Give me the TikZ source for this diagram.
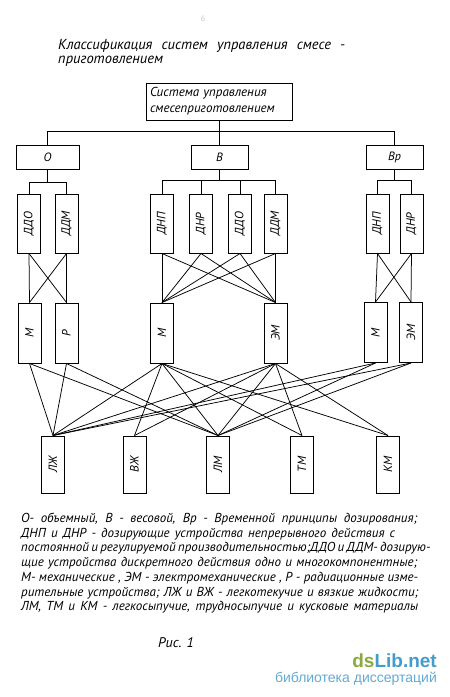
\documentclass[tikz,border=0pt]{standalone}
\usepackage{fontspec}
\usepackage{graphicx}
\setmainfont{PT Sans}
\newfontfamily\wmfont{Liberation Sans}
\definecolor{wmgreen}{RGB}{139,170,60}
\definecolor{wmblue}{RGB}{70,155,205}
\tikzset{
  box/.style={draw, line width=1pt, inner sep=0pt, font=\itshape\fontsize{12}{12}\selectfont},
  hbox/.style={box, minimum height=24pt},
  vbox/.style={box, minimum width=23pt, minimum height=59pt},
  mbox/.style={box, minimum width=23pt, minimum height=60pt},
  bbox/.style={box, minimum width=23pt, minimum height=57pt},
  link/.style={line width=0.75pt},
  captxt/.style={anchor=base west, inner sep=0pt, font=\itshape\fontsize{13}{14}\selectfont},
}
\begin{document}
\begin{tikzpicture}[x=1pt,y=-1pt]
\useasboundingbox (0,0) rectangle (450,697);
\fill[white] (0,0) rectangle (450,697);

\node[text=gray!45, font=\fontsize{8}{8}\selectfont] (pg) at (203,19) {6};

% title
\node[captxt, font=\itshape\fontsize{14.5}{14}\selectfont] (t1) at (58,49) {\makebox[287pt][s]{Классификация систем управления смесе -}};
\node[captxt, font=\itshape\fontsize{14.5}{14}\selectfont] (t2) at (58,63) {приготовлением};

% top box
\node[box, minimum width=146pt, minimum height=37pt, text width=138pt, align=left,
      font=\itshape\fontsize{13}{16}\selectfont] (top) at (219,101.5)
  {Система управления\\смесеприготовлением};

% level 1
\node[hbox, minimum width=63pt] (O) at (47.5,157) {О};
\node[hbox, minimum width=57pt] (B) at (219.5,157) {В};
\node[hbox, minimum width=57pt] (Bp) at (394.5,157) {Вр};

\draw[link] (top.south) -- ++(0,11) coordinate (tj);
\draw[link] (O.north) |- (tj) -| (Bp.north);
\draw[link] (B.north) -- (B.north |- tj);

% level 2
\node[vbox] (oDDO) at (29,223.5) {\rotatebox{90}{ДДО}};
\node[vbox] (oDDM) at (66.5,223.5) {\rotatebox{90}{ДДМ}};
\node[vbox] (bDNP) at (162,223.5) {\rotatebox{90}{ДНП}};
\node[vbox] (bDNR) at (201,223.5) {\rotatebox{90}{ДНР}};
\node[vbox] (bDDO) at (240,223.5) {\rotatebox{90}{ДДО}};
\node[vbox] (bDDM) at (275.5,223.5) {\rotatebox{90}{ДДМ}};
\node[vbox] (pDNP) at (377.5,223.5) {\rotatebox{90}{ДНП}};
\node[vbox] (pDNR) at (411.5,223.5) {\rotatebox{90}{ДНР}};

\draw[link] (O.south) -- ++(0,13) coordinate (oj);
\draw[link] (oDDO.north) |- (oj) -| (oDDM.north);
\draw[link] (B.south) -- ++(0,11) coordinate (bj);
\draw[link] (bDNP.north) |- (bj) -| (bDDM.north);
\draw[link] (bDNR.north) -- (bDNR.north |- bj);
\draw[link] (bDDO.north) -- (bDDO.north |- bj);
\draw[link] (Bp.south) -- ++(0,11) coordinate (pj);
\draw[link] (pDNP.north) |- (pj) -| (pDNR.north);

% level 3
\node[mbox] (oM) at (29.5,333) {\rotatebox{90}{М}};
\node[mbox] (oP) at (66.5,333) {\rotatebox{90}{Р}};
\node[mbox] (bM) at (162,333) {\rotatebox{90}{М}};
\node[mbox] (bEM) at (275.5,333) {\rotatebox{90}{ЭМ}};
\node[mbox] (pM) at (375.5,332.5) {\rotatebox{90}{М}};
\node[mbox] (pEM) at (411,332.5) {\rotatebox{90}{ЭМ}};

\foreach \s in {oDDO,oDDM} \foreach \t in {oM,oP} \draw[link] (\s.south) -- (\t.north);
\foreach \s in {bDNP,bDNR,bDDO,bDDM} \foreach \t in {bM,bEM} \draw[link] (\s.south) -- (\t.north);
\foreach \s in {pDNP,pDNR} \foreach \t in {pM,pEM} \draw[link] (\s.south) -- (\t.north);

% level 4
\node[bbox] (LZh) at (53,464.5) {\rotatebox{90}{ЛЖ}};
\node[bbox] (VZh) at (134.5,464.5) {\rotatebox{90}{ВЖ}};
\node[bbox] (LM) at (218,464.5) {\rotatebox{90}{ЛМ}};
\node[bbox] (TM) at (302,464.5) {\rotatebox{90}{ТМ}};
\node[bbox] (KM) at (388,464.5) {\rotatebox{90}{КМ}};

\foreach \s in {oM,oP,pM,pEM} \foreach \t in {LZh,LM} \draw[link] (\s.south) -- (\t.north);
\foreach \s in {bM,bEM} \foreach \t in {LZh,VZh,LM,TM,KM} \draw[link] (\s.south) -- (\t.north);

% caption
\node[captxt] (c1) at (21,522.5) {\makebox[396pt][s]{О- объемный, В - весовой, Вр - Временной принципы дозирования;}};
\node[captxt] (c2) at (21,537.2) {\makebox[374pt][s]{ДНП и ДНР - дозирующие устройства непрерывного действия с}};
\node[captxt] (c3) at (21,551.9) {\makebox[404pt][s]{постоянной и регулируемой производительностью;ДДО и ДДМ- дозирую-}};
\node[captxt] (c4) at (21,566.6) {\makebox[396pt][s]{щие устройства дискретного действия одно и многокомпонентные;}};
\node[captxt] (c5) at (21,581.3) {\makebox[397pt][s]{М- механические , ЭМ - электромеханические , Р - радиационные изме-}};
\node[captxt] (c6) at (21,596) {\makebox[397pt][s]{рительные устройства; ЛЖ и ВЖ - легкотекучие и вязкие жидкости;}};
\node[captxt] (c7) at (21,610.7) {\makebox[397pt][s]{ЛМ, ТМ и КМ - легкосыпучие, трудносыпучие и кусковые материалы}};

\node[captxt, font=\itshape\fontsize{14}{14}\selectfont] (fig) at (158,647) {Рис. 1};

% watermark
\node[anchor=base east, inner sep=0pt, font=\wmfont\bfseries\fontsize{19}{19}\selectfont] (wm1) at (437,667)
  {\textcolor{wmgreen}{ds}\textcolor{wmblue}{Lib.net}};
\node[anchor=base east, inner sep=0pt, font=\wmfont\fontsize{14}{14}\selectfont, text=wmblue!85] (wm2) at (437,682)
  {библиотека диссертаций};
\end{tikzpicture}
\end{document}
